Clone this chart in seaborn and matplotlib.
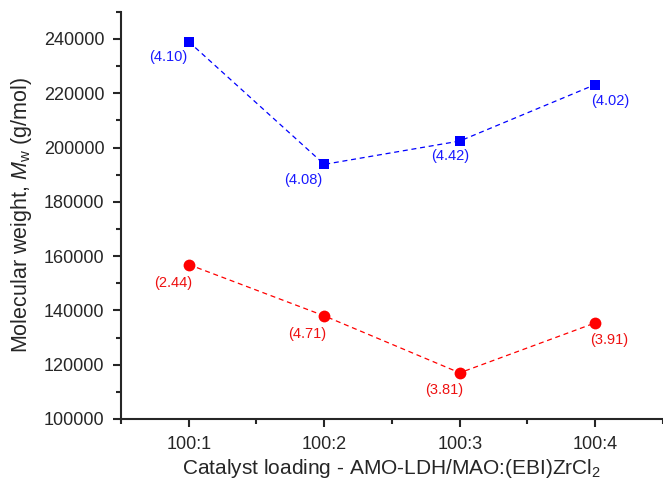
import matplotlib
matplotlib.use("Agg")
import matplotlib.pyplot as plt
from matplotlib.ticker import MultipleLocator
import seaborn as sns
import pandas as pd

# values
loadings = ["100:1", "100:2", "100:3", "100:4"]
mw_blue = [239000, 193800, 202400, 223200]
mw_red = [156900, 138000, 117000, 135400]
pdi_blue = ["(4.10)", "(4.08)", "(4.42)", "(4.02)"]
pdi_red = ["(2.44)", "(4.71)", "(3.81)", "(3.91)"]

sns.set_style("ticks")
plt.rcParams["font.family"] = ["Liberation Sans", "DejaVu Sans"]
plt.rcParams["mathtext.fontset"] = "custom"
plt.rcParams["mathtext.rm"] = "Liberation Sans"
plt.rcParams["mathtext.it"] = "Liberation Sans:italic"

df_blue = pd.DataFrame({"loading": loadings, "mw": mw_blue})
df_red = pd.DataFrame({"loading": loadings, "mw": mw_red})

fig = plt.figure(figsize=(6.63, 4.79), dpi=100)
ax = fig.add_axes([0.1825, 0.1253, 0.8175, 0.85])

sns.lineplot(data=df_blue, x="loading", y="mw", ax=ax, color="#0000ff",
             linestyle=(0, (4, 3)), linewidth=0.9, marker="s", markersize=7,
             markeredgewidth=0, sort=False)
sns.lineplot(data=df_red, x="loading", y="mw", ax=ax, color="#ff0000",
             linestyle=(0, (4, 3)), linewidth=0.9, marker="o", markersize=8.5,
             markeredgewidth=0, sort=False)

# label offsets in points (dx, dy)
off_blue = [(-15, -11), (-15, -11), (-7, -11), (11, -12)]
off_red = [(-11, -13), (-12, -13), (-11, -12), (10, -12)]
for i, (lab, y) in enumerate(zip(pdi_blue, mw_blue)):
    ax.annotate(lab, (i, y), xytext=off_blue[i], textcoords="offset points",
                ha="center", va="center", color="#1a1aff", fontsize=10.5)
for i, (lab, y) in enumerate(zip(pdi_red, mw_red)):
    ax.annotate(lab, (i, y), xytext=off_red[i], textcoords="offset points",
                ha="center", va="center", color="#ee1111", fontsize=10.5)

ax.set_xlim(-0.5, 3.5)
ax.set_ylim(100000, 250000)
ax.yaxis.set_major_locator(MultipleLocator(20000))
ax.yaxis.set_minor_locator(MultipleLocator(10000))
ax.xaxis.set_minor_locator(MultipleLocator(1, offset=0.5))
ax.set_xticks(range(len(loadings)))
ax.set_xticklabels(loadings)

sns.despine(ax=ax)
for s in ["left", "bottom"]:
    ax.spines[s].set_linewidth(1.5)
ax.tick_params(which="major", length=6, width=1.5, labelsize=13, direction="out", pad=6)
ax.tick_params(which="minor", length=3.5, width=1.5, direction="out")

ax.set_xlabel(r"Catalyst loading - AMO-LDH/MAO:(EBI)ZrCl$_\mathrm{2}$", fontsize=15, labelpad=3)
ax.set_ylabel(r"Molecular weight, $\mathit{M}_\mathrm{w}$ (g/mol)", fontsize=15.5, labelpad=7)

fig.savefig("out.png", dpi=100)
